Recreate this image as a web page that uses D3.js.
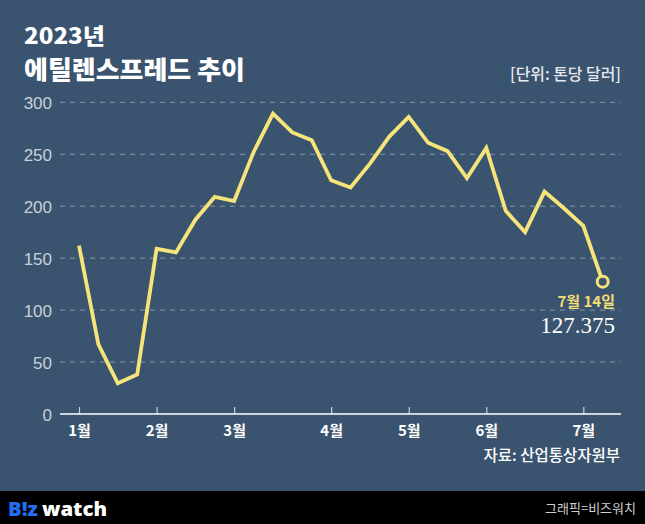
<!DOCTYPE html>
<html><head><meta charset="utf-8">
<script src="https://cdn.jsdelivr.net/npm/d3@7"></script>
<style>
html,body{margin:0;padding:0;background:#3a536e;}
svg{display:block;}
</style></head>
<body>
<script>
// weekly dates (Fridays) 2023
const dates = ["01-06","01-13","01-20","01-27","02-03","02-10","02-17","02-24","03-03","03-10","03-17","03-24","03-31","04-07","04-14","04-21","04-28","05-05","05-12","05-19","05-26","06-02","06-09","06-16","06-23","06-30","07-07","07-14"];
const spread = [162,67,29.5,38,159,155.5,187,209,205,252,289,271,263.5,225,218,241,267,286,261,253,227,256,195.5,175,214,198,181,127.375];
const monthTicks = ["01-06","02-03","03-03","04-07","05-05","06-02","07-07"];
const monthLabels = ["1월","2월","3월","4월","5월","6월","7월"];
const yTicks = [0,50,100,150,200,250,300];

const W = 645, H = 524;
const kr = "'Noto Sans CJK KR','Noto Sans',sans-serif";
const svg = d3.select("body").append("svg").attr("width",W).attr("height",H);
svg.append("rect").attr("width",W).attr("height",H).attr("fill","#3a536e");

const x = d3.scalePoint().domain(dates).range([79, 602.7]);
const y = d3.scaleLinear().domain([0,300]).range([414, 102.3]);

// title
svg.append("text").attr("x",24).attr("y",43.5).attr("fill","#fff")
  .attr("font-family",kr).attr("font-weight",900).attr("font-size",22)
  .attr("textLength",81).attr("lengthAdjust","spacingAndGlyphs").text("2023년");
svg.append("text").attr("x",24).attr("y",79).attr("fill","#fff")
  .attr("font-family",kr).attr("font-weight",900).attr("font-size",25)
  .attr("textLength",221).attr("lengthAdjust","spacingAndGlyphs").text("에틸렌스프레드 추이");
svg.append("text").attr("x",621).attr("y",80).attr("fill","#e6e9ee").attr("text-anchor","end")
  .attr("font-family",kr).attr("font-weight",500).attr("font-size",16)
  .attr("textLength",111).attr("lengthAdjust","spacingAndGlyphs").text("[단위: 톤당 달러]");

// grid
const grid = svg.append("g");
yTicks.filter(d=>d>0).forEach(d=>{
  grid.append("line").attr("x1",60).attr("x2",621).attr("y1",y(d)).attr("y2",y(d))
    .attr("stroke","#8798ad").attr("stroke-width",1).attr("stroke-dasharray","5,5");
});
// y labels
const yAxis = d3.axisLeft(y).tickValues(yTicks).tickSize(0).tickPadding(0);
const gy = svg.append("g").attr("transform","translate(52,0)").call(yAxis);
gy.select(".domain").remove();
gy.selectAll("text").attr("fill","#c9d1db").attr("font-family","'Liberation Sans',Arial,sans-serif")
  .attr("font-size",17).attr("dy","0.36em");

// x axis
const xAxis = d3.axisBottom(x).tickValues(monthTicks).tickSize(-7).tickPadding(11)
  .tickFormat((d,i)=>monthLabels[i]);
const gx = svg.append("g").attr("transform","translate(0,414)").call(xAxis);
gx.select(".domain").remove();
gx.selectAll(".tick line").attr("stroke","#c9d1db").attr("stroke-width",1.2);
gx.selectAll("text").attr("fill","#fff").attr("font-family",kr).attr("font-weight",700).attr("font-size",15).attr("dy","0.71em");
svg.append("line").attr("x1",60).attr("x2",621).attr("y1",414).attr("y2",414).attr("stroke","#fff").attr("stroke-width",1.5);

// line
const line = d3.line().x((d,i)=>x(dates[i])).y(d=>y(d));
svg.append("path").datum(spread).attr("d",line).attr("fill","none")
  .attr("stroke","#f5e47a").attr("stroke-width",3.8).attr("stroke-linejoin","miter");
const last = spread.length-1;
svg.append("circle").attr("cx",x(dates[last])).attr("cy",y(spread[last])).attr("r",5.5)
  .attr("fill","#3a536e").attr("stroke","#f5e47a").attr("stroke-width",3);

svg.append("text").attr("x",615).attr("y",307).attr("text-anchor","end").attr("fill","#f0dc78")
  .attr("font-family",kr).attr("font-weight",700).attr("font-size",15).text("7월 14일");
svg.append("text").attr("x",615).attr("y",333).attr("text-anchor","end").attr("fill","#fff")
  .attr("font-family","'Liberation Serif','DejaVu Serif',serif").attr("font-size",23).text(d3.format(".3f")(spread[last]));

// source
svg.append("text").attr("x",620).attr("y",461).attr("text-anchor","end").attr("fill","#fff")
  .attr("font-family",kr).attr("font-weight",500).attr("font-size",15.5).text("자료: 산업통상자원부");

// footer
svg.append("rect").attr("x",0).attr("y",491).attr("width",W).attr("height",H-491).attr("fill","#000");
const logo = svg.append("text").attr("x",8).attr("y",515.5).attr("font-family","'Open Sans',Roboto,sans-serif")
  .attr("font-weight",800).attr("font-size",20).attr("textLength",99).attr("lengthAdjust","spacingAndGlyphs");
logo.append("tspan").attr("fill","#1f6ff0").text("B!z");
logo.append("tspan").attr("fill","#fff").attr("dx",4).text("watch");
svg.append("text").attr("x",636).attr("y",513).attr("text-anchor","end").attr("fill","#cfcfcf")
  .attr("font-family",kr).attr("font-size",13).text("그래픽=비즈워치");
</script>
</body></html>
